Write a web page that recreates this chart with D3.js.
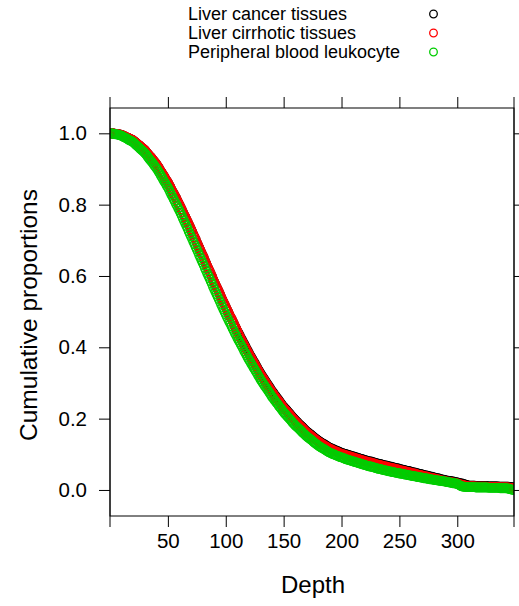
<!DOCTYPE html>
<html>
<head>
<meta charset="utf-8">
<script src="https://cdn.jsdelivr.net/npm/d3@7"></script>
<style>
  body { margin: 0; background: #fff; }
  text { font-family: "Liberation Sans", Arial, Helvetica, sans-serif; fill: #000; }
</style>
</head>
<body>
<script>
// depth runs 1, 2, 3 ... one point per depth
const depthStart = 1;

const cancerProp = [
  1.000, 1.000, 0.999, 0.999, 0.998, 0.998, 0.997, 0.997, 0.996, 0.995,
  0.994, 0.992, 0.991, 0.989, 0.988, 0.986, 0.985, 0.983, 0.982, 0.980,
  0.977, 0.975, 0.972, 0.969, 0.967, 0.964, 0.961, 0.958, 0.956, 0.953,
  0.949, 0.945, 0.941, 0.937, 0.934, 0.930, 0.926, 0.922, 0.918, 0.914,
  0.909, 0.904, 0.898, 0.893, 0.888, 0.883, 0.878, 0.872, 0.867, 0.862,
  0.856, 0.850, 0.843, 0.837, 0.831, 0.825, 0.819, 0.812, 0.806, 0.800,
  0.793, 0.786, 0.779, 0.772, 0.766, 0.759, 0.752, 0.745, 0.738, 0.731,
  0.724, 0.716, 0.709, 0.702, 0.694, 0.687, 0.680, 0.673, 0.665, 0.658,
  0.651, 0.643, 0.636, 0.628, 0.621, 0.614, 0.606, 0.599, 0.591, 0.584,
  0.577, 0.570, 0.563, 0.556, 0.549, 0.541, 0.534, 0.527, 0.520, 0.513,
  0.506, 0.500, 0.493, 0.486, 0.480, 0.473, 0.466, 0.459, 0.453, 0.446,
  0.440, 0.434, 0.427, 0.421, 0.415, 0.409, 0.403, 0.396, 0.390, 0.384,
  0.378, 0.373, 0.367, 0.361, 0.356, 0.350, 0.344, 0.338, 0.333, 0.327,
  0.322, 0.317, 0.312, 0.307, 0.302, 0.297, 0.292, 0.287, 0.282, 0.277,
  0.273, 0.268, 0.264, 0.259, 0.255, 0.251, 0.246, 0.242, 0.237, 0.233,
  0.229, 0.226, 0.222, 0.218, 0.215, 0.211, 0.207, 0.203, 0.200, 0.196,
  0.193, 0.190, 0.186, 0.183, 0.180, 0.177, 0.174, 0.170, 0.167, 0.164,
  0.161, 0.159, 0.156, 0.154, 0.151, 0.148, 0.146, 0.143, 0.141, 0.138,
  0.136, 0.134, 0.132, 0.130, 0.128, 0.126, 0.124, 0.122, 0.120, 0.118,
  0.117, 0.115, 0.114, 0.112, 0.111, 0.110, 0.108, 0.107, 0.105, 0.104,
  0.103, 0.102, 0.101, 0.100, 0.099, 0.098, 0.097, 0.096, 0.095, 0.094,
  0.093, 0.092, 0.091, 0.090, 0.089, 0.088, 0.087, 0.086, 0.085, 0.084,
  0.083, 0.082, 0.081, 0.080, 0.080, 0.079, 0.078, 0.077, 0.076, 0.075,
  0.074, 0.073, 0.073, 0.072, 0.071, 0.070, 0.069, 0.069, 0.068, 0.067,
  0.066, 0.065, 0.065, 0.064, 0.063, 0.062, 0.061, 0.061, 0.060, 0.059,
  0.058, 0.057, 0.057, 0.056, 0.055, 0.054, 0.053, 0.053, 0.052, 0.051,
  0.050, 0.049, 0.049, 0.048, 0.047, 0.046, 0.045, 0.045, 0.044, 0.043,
  0.042, 0.041, 0.041, 0.040, 0.039, 0.038, 0.037, 0.037, 0.036, 0.035,
  0.034, 0.033, 0.033, 0.032, 0.031, 0.030, 0.029, 0.029, 0.028, 0.027,
  0.026, 0.026, 0.025, 0.025, 0.024, 0.024, 0.023, 0.022, 0.022, 0.021,
  0.020, 0.019, 0.018, 0.018, 0.017, 0.016, 0.015, 0.014, 0.013, 0.012,
  0.012, 0.012, 0.012, 0.012, 0.012, 0.011, 0.011, 0.011, 0.011, 0.011,
  0.011, 0.011, 0.011, 0.011, 0.011, 0.010, 0.010, 0.010, 0.010, 0.010,
  0.010, 0.010, 0.010, 0.010, 0.010, 0.009, 0.009, 0.009, 0.009, 0.009,
  0.009, 0.009, 0.009, 0.009, 0.008, 0.008, 0.008, 0.008
];

const cirrhoticProp = [
  1.000, 1.000, 0.999, 0.999, 0.998, 0.998, 0.997, 0.997, 0.996, 0.995,
  0.994, 0.992, 0.991, 0.989, 0.988, 0.986, 0.985, 0.983, 0.982, 0.980,
  0.977, 0.975, 0.972, 0.969, 0.967, 0.964, 0.961, 0.958, 0.956, 0.953,
  0.949, 0.945, 0.941, 0.937, 0.934, 0.930, 0.926, 0.922, 0.918, 0.914,
  0.909, 0.904, 0.898, 0.893, 0.888, 0.883, 0.878, 0.872, 0.867, 0.862,
  0.856, 0.850, 0.843, 0.837, 0.831, 0.825, 0.819, 0.812, 0.806, 0.800,
  0.793, 0.786, 0.779, 0.772, 0.766, 0.759, 0.752, 0.745, 0.738, 0.731,
  0.724, 0.716, 0.709, 0.702, 0.694, 0.687, 0.680, 0.673, 0.665, 0.658,
  0.651, 0.643, 0.636, 0.628, 0.621, 0.614, 0.606, 0.599, 0.591, 0.584,
  0.577, 0.570, 0.563, 0.556, 0.549, 0.541, 0.534, 0.527, 0.520, 0.513,
  0.506, 0.500, 0.493, 0.486, 0.480, 0.473, 0.466, 0.459, 0.453, 0.446,
  0.437, 0.431, 0.424, 0.418, 0.412, 0.406, 0.400, 0.393, 0.387, 0.381,
  0.375, 0.370, 0.364, 0.358, 0.353, 0.347, 0.341, 0.335, 0.330, 0.324,
  0.319, 0.314, 0.309, 0.304, 0.299, 0.294, 0.289, 0.284, 0.279, 0.274,
  0.270, 0.265, 0.261, 0.256, 0.252, 0.248, 0.243, 0.239, 0.234, 0.230,
  0.226, 0.223, 0.219, 0.215, 0.212, 0.208, 0.204, 0.200, 0.197, 0.193,
  0.190, 0.187, 0.183, 0.180, 0.177, 0.174, 0.171, 0.167, 0.164, 0.161,
  0.158, 0.156, 0.153, 0.151, 0.148, 0.145, 0.143, 0.140, 0.138, 0.135,
  0.133, 0.131, 0.129, 0.127, 0.125, 0.123, 0.121, 0.119, 0.117, 0.115,
  0.114, 0.112, 0.111, 0.109, 0.108, 0.107, 0.105, 0.104, 0.102, 0.101,
  0.100, 0.099, 0.098, 0.097, 0.096, 0.095, 0.094, 0.093, 0.092, 0.091,
  0.090, 0.089, 0.088, 0.087, 0.086, 0.085, 0.084, 0.083, 0.082, 0.081,
  0.080, 0.079, 0.078, 0.077, 0.077, 0.076, 0.075, 0.074, 0.073, 0.072,
  0.071, 0.070, 0.070, 0.069, 0.068, 0.067, 0.066, 0.066, 0.065, 0.064,
  0.063, 0.062, 0.062, 0.061, 0.060, 0.059, 0.058, 0.058, 0.057, 0.056,
  0.055, 0.054, 0.054, 0.053, 0.052, 0.051, 0.050, 0.050, 0.049, 0.048,
  0.047, 0.046, 0.046, 0.045, 0.044, 0.043, 0.042, 0.042, 0.041, 0.040,
  0.039, 0.038, 0.038, 0.037, 0.036, 0.035, 0.034, 0.034, 0.033, 0.032,
  0.031, 0.030, 0.030, 0.029, 0.028, 0.027, 0.026, 0.026, 0.025, 0.024,
  0.023, 0.023, 0.022, 0.022, 0.021, 0.021, 0.020, 0.019, 0.019, 0.018,
  0.017, 0.016, 0.015, 0.015, 0.014, 0.013, 0.012, 0.011, 0.010, 0.009,
  0.010, 0.010, 0.010, 0.010, 0.010, 0.009, 0.009, 0.009, 0.009, 0.009,
  0.009, 0.009, 0.009, 0.009, 0.009, 0.008, 0.008, 0.008, 0.008, 0.008,
  0.008, 0.008, 0.008, 0.008, 0.008, 0.007, 0.007, 0.007, 0.007, 0.007,
  0.007, 0.007, 0.007, 0.007, 0.006, 0.006, 0.006, 0.006
];

const leukocyteProp = [
  1.000, 0.999, 0.999, 0.998, 0.997, 0.997, 0.996, 0.995, 0.994, 0.993,
  0.991, 0.989, 0.988, 0.986, 0.984, 0.982, 0.980, 0.979, 0.977, 0.975,
  0.972, 0.969, 0.966, 0.963, 0.960, 0.957, 0.954, 0.951, 0.948, 0.945,
  0.941, 0.937, 0.932, 0.928, 0.924, 0.920, 0.916, 0.911, 0.907, 0.903,
  0.898, 0.892, 0.887, 0.881, 0.876, 0.870, 0.864, 0.859, 0.853, 0.848,
  0.842, 0.835, 0.828, 0.822, 0.815, 0.809, 0.802, 0.796, 0.789, 0.783,
  0.776, 0.769, 0.761, 0.754, 0.747, 0.740, 0.733, 0.725, 0.718, 0.711,
  0.704, 0.696, 0.689, 0.681, 0.674, 0.667, 0.659, 0.652, 0.644, 0.637,
  0.630, 0.622, 0.615, 0.607, 0.600, 0.593, 0.585, 0.578, 0.570, 0.563,
  0.556, 0.549, 0.542, 0.535, 0.528, 0.520, 0.513, 0.506, 0.499, 0.492,
  0.485, 0.479, 0.472, 0.466, 0.459, 0.452, 0.446, 0.439, 0.433, 0.426,
  0.420, 0.414, 0.408, 0.402, 0.396, 0.389, 0.383, 0.377, 0.371, 0.365,
  0.360, 0.354, 0.349, 0.343, 0.338, 0.332, 0.327, 0.321, 0.316, 0.310,
  0.305, 0.300, 0.295, 0.290, 0.286, 0.281, 0.276, 0.271, 0.266, 0.261,
  0.257, 0.252, 0.248, 0.244, 0.240, 0.235, 0.231, 0.227, 0.222, 0.218,
  0.214, 0.211, 0.207, 0.203, 0.200, 0.196, 0.192, 0.188, 0.185, 0.181,
  0.178, 0.175, 0.172, 0.169, 0.166, 0.162, 0.159, 0.156, 0.153, 0.150,
  0.147, 0.145, 0.142, 0.140, 0.137, 0.134, 0.132, 0.129, 0.127, 0.124,
  0.122, 0.120, 0.118, 0.116, 0.114, 0.112, 0.110, 0.108, 0.106, 0.104,
  0.103, 0.101, 0.100, 0.099, 0.097, 0.096, 0.095, 0.093, 0.092, 0.091,
  0.090, 0.089, 0.087, 0.086, 0.085, 0.084, 0.083, 0.082, 0.081, 0.080,
  0.079, 0.078, 0.077, 0.076, 0.075, 0.074, 0.073, 0.072, 0.071, 0.070,
  0.069, 0.068, 0.067, 0.066, 0.066, 0.065, 0.064, 0.063, 0.062, 0.061,
  0.060, 0.059, 0.059, 0.058, 0.057, 0.056, 0.055, 0.055, 0.054, 0.053,
  0.052, 0.052, 0.051, 0.050, 0.050, 0.049, 0.048, 0.048, 0.047, 0.046,
  0.046, 0.045, 0.045, 0.044, 0.043, 0.043, 0.042, 0.041, 0.041, 0.040,
  0.039, 0.039, 0.038, 0.038, 0.037, 0.036, 0.036, 0.035, 0.035, 0.034,
  0.033, 0.033, 0.032, 0.032, 0.031, 0.030, 0.030, 0.029, 0.029, 0.028,
  0.028, 0.027, 0.027, 0.026, 0.026, 0.025, 0.025, 0.024, 0.024, 0.023,
  0.022, 0.022, 0.021, 0.021, 0.020, 0.019, 0.019, 0.018, 0.018, 0.017,
  0.015, 0.013, 0.011, 0.010, 0.009, 0.009, 0.008, 0.008, 0.008, 0.008,
  0.008, 0.008, 0.008, 0.008, 0.008, 0.007, 0.007, 0.007, 0.007, 0.007,
  0.007, 0.007, 0.007, 0.007, 0.007, 0.007, 0.006, 0.006, 0.006, 0.006,
  0.006, 0.006, 0.006, 0.006, 0.006, 0.006, 0.005, 0.005, 0.005, 0.005,
  0.005, 0.005, 0.004, 0.004, 0.003, 0.002, 0.001, 0.000
];

const seriesNames = ["Liver cancer tissues", "Liver cirrhotic tissues", "Peripheral blood leukocyte"];
const seriesColors = ["#000000", "#ff0000", "#00cd00"];
const seriesValues = [cancerProp, cirrhoticProp, leukocyteProp];

const xTicks = [50, 100, 150, 200, 250, 300];
const yTicks = [0.0, 0.2, 0.4, 0.6, 0.8, 1.0];
const xDomain = [0, 349];
const yDomain = [-0.073, 1.071];

const W = 519, H = 606;
const panel = { left: 110, right: 514, top: 108, bottom: 516 };
const tickLen = 11;

const svg = d3.select("body").append("svg")
    .attr("width", W)
    .attr("height", H);

const x = d3.scaleLinear().domain(xDomain).range([panel.left, panel.right]);
const y = d3.scaleLinear().domain(yDomain).range([panel.bottom, panel.top]);

// points, clipped to the panel
svg.append("clipPath").attr("id", "panelClip")
  .append("rect")
    .attr("x", panel.left).attr("y", panel.top)
    .attr("width", panel.right - panel.left)
    .attr("height", panel.bottom - panel.top);

const plot = svg.append("g").attr("clip-path", "url(#panelClip)");

seriesValues.forEach((vals, k) => {
  plot.append("g")
    .selectAll("circle")
    .data(vals)
    .join("circle")
      .attr("cx", (d, i) => x(depthStart + i))
      .attr("cy", d => y(d))
      .attr("r", 4.3)
      .attr("fill", "none")
      .attr("stroke", seriesColors[k])
      .attr("stroke-width", 1.3);
});

// axes: left and bottom labelled, top and right ticks only
const axisStyle = g => {
  g.select(".domain").remove();
  g.selectAll("line").attr("stroke", "#000").attr("stroke-width", 1);
  g.selectAll("text")
    .style("font-family", '"Liberation Sans", Arial, sans-serif')
    .style("font-size", "20.5px")
    .attr("fill", "#000");
};

svg.append("g")
    .attr("transform", `translate(0,${panel.bottom})`)
    .call(d3.axisBottom(x).tickValues(xTicks).tickSize(tickLen).tickPadding(6).tickFormat(d3.format("d")))
    .call(axisStyle);

svg.append("g")
    .attr("transform", `translate(0,${panel.top})`)
    .call(d3.axisTop(x).tickValues(xTicks).tickSize(tickLen).tickFormat(""))
    .call(axisStyle);

svg.append("g")
    .attr("transform", `translate(${panel.left},0)`)
    .call(d3.axisLeft(y).tickValues(yTicks).tickSize(tickLen).tickPadding(12).tickFormat(d3.format(".1f")))
    .call(axisStyle);

svg.append("g")
    .attr("transform", `translate(${panel.right},0)`)
    .call(d3.axisRight(y).tickValues(yTicks).tickSize(tickLen).tickFormat(""))
    .call(axisStyle);

// panel frame; the vertical sides run past the corners like the ticks
svg.append("rect")
    .attr("x", panel.left).attr("y", panel.top)
    .attr("width", panel.right - panel.left)
    .attr("height", panel.bottom - panel.top)
    .attr("fill", "none")
    .attr("stroke", "#000")
    .attr("stroke-width", 1);

[panel.left, panel.right].forEach(px => {
  svg.append("line")
      .attr("x1", px).attr("x2", px)
      .attr("y1", panel.top - tickLen).attr("y2", panel.bottom + tickLen)
      .attr("stroke", "#000").attr("stroke-width", 1);
});

// axis titles
svg.append("text")
    .attr("x", (panel.left + panel.right) / 2 + 1)
    .attr("y", 593)
    .attr("text-anchor", "middle")
    .style("font-size", "24px")
    .text("Depth");

svg.append("text")
    .attr("transform", `translate(37,${(panel.top + panel.bottom) / 2 + 3}) rotate(-90)`)
    .attr("text-anchor", "middle")
    .style("font-size", "24.5px")
    .text("Cumulative proportions");

// legend
const legend = svg.append("g");
seriesNames.forEach((name, k) => {
  const ly = 14 + k * 19;
  legend.append("text")
      .attr("x", 188).attr("y", ly + 6)
      .style("font-size", "18px")
      .text(name);
  legend.append("circle")
      .attr("cx", 433.5).attr("cy", ly)
      .attr("r", 3.8)
      .attr("fill", "none")
      .attr("stroke", seriesColors[k])
      .attr("stroke-width", 1.3);
});
</script>
</body>
</html>
